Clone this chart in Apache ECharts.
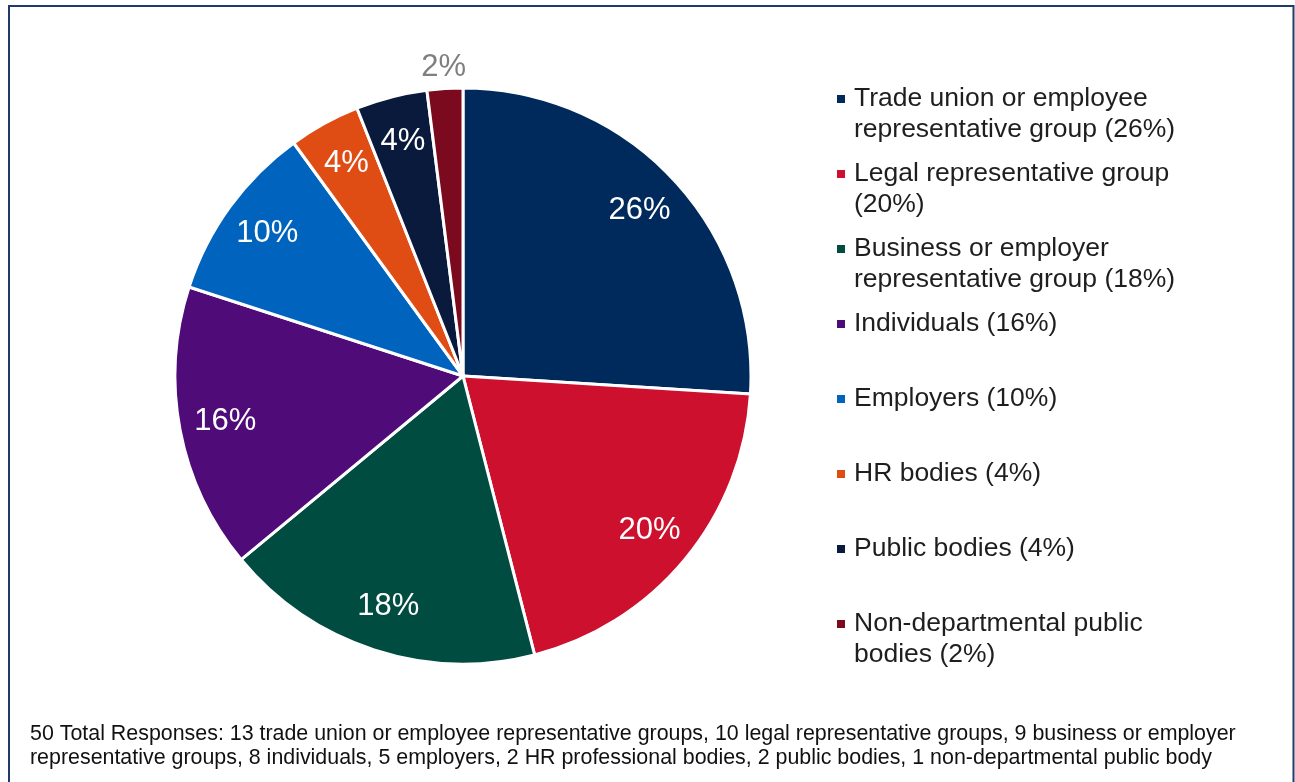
<!DOCTYPE html>
<html>
<head>
<meta charset="utf-8">
<script src="https://cdn.jsdelivr.net/npm/echarts@6/dist/echarts.min.js"></script>
<style>
  html, body { margin: 0; padding: 0; background: #ffffff; }
  #chart { width: 1295px; height: 782px; }
</style>
</head>
<body>
<div id="chart"></div>
<script>
// Respondent groups and how many responses each sent
const categories = [
  'Trade union or employee representative group',
  'Legal representative group',
  'Business or employer representative group',
  'Individuals',
  'Employers',
  'HR bodies',
  'Public bodies',
  'Non-departmental public bodies'
];
const counts = [13, 10, 9, 8, 5, 2, 2, 1];
const sliceColors = ['#002a5c', '#cc102d', '#004c40', '#4f0b78', '#0063be', '#e04d14', '#0a1a3c', '#7c0a1e'];
// Wording used in the note under the chart
const footnoteNouns = [
  'trade union or employee representative groups',
  'legal representative groups',
  'business or employer representative groups',
  'individuals',
  'employers',
  'HR professional bodies',
  'public bodies',
  'non-departmental public body'
];

const FONT = "'Liberation Sans', Arial, sans-serif";
const LEGEND_SIZE = 26.5;
const LEGEND_LINE = 31;
const total = counts.reduce((a, b) => a + b, 0);
const pct = c => Math.round(c / total * 100);

// simple word wrap measured with the legend font
const measureCtx = document.createElement('canvas').getContext('2d');
function wrapLines(text, size, maxWidth) {
  measureCtx.font = size + 'px ' + FONT;
  const words = text.split(' ');
  const lines = [];
  let cur = '';
  words.forEach(w => {
    const trial = cur ? cur + ' ' + w : w;
    if (cur && measureCtx.measureText(trial).width > maxWidth) {
      lines.push(cur);
      cur = w;
    } else {
      cur = trial;
    }
  });
  if (cur) lines.push(cur);
  return lines;
}

// Each legend entry is three lines tall with its first text line in the middle,
// so the marker sits beside the first line.
function legendText(name) {
  const i = categories.indexOf(name);
  const lines = wrapLines(name + ' (' + pct(counts[i]) + '%)', LEGEND_SIZE, 335);
  return lines.length > 1 ? '\n' + lines.join('\n') : '\n' + lines[0] + '\n';
}

const footnote = total + ' Total Responses: ' +
  counts.map((c, i) => c + ' ' + footnoteNouns[i]).join(', ');

const R = 288;
const center = [463, 376];
const sliceData = categories.map((n, i) => ({ name: n, value: counts[i], itemStyle: { color: sliceColors[i] } }));
const labelData = counts.map(c => ({ value: c }));

const chart = echarts.init(document.getElementById('chart'), null, { renderer: 'canvas' });
chart.setOption({
  animation: false,
  backgroundColor: '#ffffff',
  legend: {
    orient: 'vertical',
    left: 837,
    top: 99 - 1.5 * LEGEND_LINE,
    padding: 0,
    itemWidth: 8,
    itemHeight: 8,
    itemGap: 75 - 3 * LEGEND_LINE,
    icon: 'rect',
    selectedMode: false,
    data: categories,
    formatter: legendText,
    itemStyle: { borderWidth: 0 },
    textStyle: {
      fontFamily: FONT,
      fontSize: LEGEND_SIZE,
      lineHeight: LEGEND_LINE,
      color: '#1e1e1e',
      padding: [0, 0, 0, 4]
    }
  },
  graphic: [
    {
      type: 'rect',
      silent: true,
      shape: { x: 9, y: 6, width: 1284.5, height: 800 },
      style: { fill: 'none', stroke: '#1f3a6b', lineWidth: 2 }
    },
    {
      type: 'text',
      silent: true,
      left: 30,
      top: 722,
      style: {
        text: footnote,
        width: 1220,
        overflow: 'break',
        fontFamily: FONT,
        fontSize: 21.4,
        lineHeight: 24,
        fill: '#111111'
      }
    }
  ],
  series: [
    {
      // the slices
      type: 'pie',
      center: center,
      radius: [0, R],
      startAngle: 90,
      clockwise: true,
      silent: true,
      label: { show: false },
      labelLine: { show: false },
      itemStyle: { borderColor: '#ffffff', borderWidth: 3 },
      data: sliceData
    },
    {
      // percentage labels inside the larger slices
      type: 'pie',
      center: center,
      radius: [R * 0.66, R],
      startAngle: 90,
      clockwise: true,
      silent: true,
      itemStyle: { color: 'rgba(0,0,0,0)' },
      labelLine: { show: false },
      label: {
        show: true,
        position: 'inside',
        fontFamily: FONT,
        fontSize: 31,
        color: '#ffffff',
        formatter: p => p.percent >= 3 ? Math.round(p.percent) + '%' : ''
      },
      data: labelData
    },
    {
      // labels for the thin slices, placed just outside the rim
      type: 'pie',
      center: center,
      radius: [R, R + 36],
      startAngle: 90,
      clockwise: true,
      silent: true,
      itemStyle: { color: 'rgba(0,0,0,0)' },
      labelLine: { show: false },
      label: {
        show: true,
        position: 'inside',
        fontFamily: FONT,
        fontSize: 31,
        color: '#7f7f7f',
        formatter: p => p.percent < 3 ? Math.round(p.percent) + '%' : ''
      },
      data: labelData
    }
  ]
});
</script>
</body>
</html>
